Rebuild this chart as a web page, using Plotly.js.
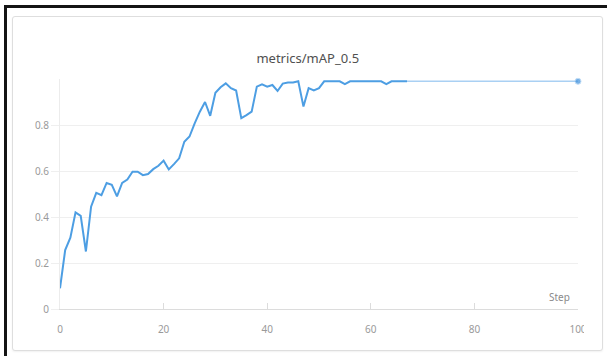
<!DOCTYPE html>
<html>
<head>
<meta charset="utf-8">
<script src="https://cdn.plot.ly/plotly-3.0.1.min.js"></script>
<style>
  html, body { margin: 0; padding: 0; background: #ffffff; }
  #page { position: relative; width: 607px; height: 356px; overflow: hidden; background: #ffffff; }
  #frame { position: absolute; left: 4px; top: 5px; width: 620px; height: 400px;
           border-top: 3px solid #141414; border-left: 3px solid #141414; }
  #card { position: absolute; left: 12px; top: 16px; width: 589px; height: 333px;
          border: 1px solid #dedede; border-radius: 3px; background: #ffffff;
          box-shadow: 0 1px 2px rgba(0,0,0,0.06); }
  #clip { position: absolute; left: 0; top: 0; width: 584px; height: 356px; overflow: hidden; }
  #chart { width: 607px; height: 356px; }
</style>
</head>
<body>
<div id="page">
  <div id="frame"></div>
  <div id="card"></div>
  <div id="clip"><div id="chart"></div></div>
</div>
<script>
// Training steps and mAP@0.5 values
const steps = [
  0, 1, 2, 3, 4, 5, 6, 7, 8, 9,
  10, 11, 12, 13, 14, 15, 16, 17, 18, 19,
  20, 21, 22, 23, 24, 25, 26, 27, 28, 29,
  30, 31, 32, 33, 34, 35, 36, 37, 38, 39,
  40, 41, 42, 43, 44, 45, 46, 47, 48, 49,
  50, 51, 52, 53, 54, 55, 56, 57, 58, 59,
  60, 61, 62, 63, 64, 65, 66, 67
];
const mapValues = [
  0.09, 0.256, 0.31, 0.42, 0.405, 0.25, 0.445, 0.505, 0.495, 0.548,
  0.54, 0.49, 0.548, 0.563, 0.597, 0.597, 0.582, 0.587, 0.608, 0.623,
  0.645, 0.607, 0.63, 0.655, 0.727, 0.75, 0.807, 0.858, 0.90, 0.84,
  0.94, 0.964, 0.981, 0.96, 0.95, 0.83, 0.843, 0.858, 0.967, 0.977,
  0.967, 0.974, 0.948, 0.98, 0.985, 0.985, 0.99, 0.88, 0.96, 0.95,
  0.96, 0.99, 0.99, 0.99, 0.99, 0.978, 0.99, 0.99, 0.99, 0.99,
  0.99, 0.99, 0.99, 0.978, 0.99, 0.99, 0.99, 0.99
];
// Last logged point
const finalStep = 100;
const finalValue = 0.99;

const xTicks = [0, 20, 40, 60, 80, 100];
const yTicks = [0, 0.2, 0.4, 0.6, 0.8];
const chartTitle = "metrics/mAP_0.5";
const xLabel = "Step";

const lastIdx = steps.length - 1;
const font = "Noto Sans, Open Sans, sans-serif";

const traces = [
  {
    x: [steps[lastIdx], finalStep],
    y: [mapValues[lastIdx], finalValue],
    mode: "lines+markers",
    line: { color: "#a9d0f3", width: 1.5 },
    marker: { color: "#3d8fdc", size: [0, 6] },
    cliponaxis: false,
    hoverinfo: "skip"
  },
  {
    x: steps,
    y: mapValues,
    mode: "lines",
    line: { color: "#4d9ee3", width: 2 },
    hoverinfo: "x+y"
  }
];

const layout = {
  width: 607,
  height: 356,
  margin: { l: 60, r: 29, t: 79, b: 47 },
  paper_bgcolor: "rgba(0,0,0,0)",
  plot_bgcolor: "rgba(0,0,0,0)",
  showlegend: false,
  font: { family: font, color: "#9a9a9a", size: 10 },
  title: {
    text: chartTitle,
    font: { family: font, size: 13, color: "#505050" },
    xref: "container", x: 0.507, xanchor: "center",
    yref: "container", y: 0.837, yanchor: "middle"
  },
  xaxis: {
    range: [0, 100],
    tickvals: xTicks,
    ticktext: xTicks.map(String),
    showgrid: false,
    zeroline: false,
    showline: true,
    linecolor: "#dcdcdc",
    linewidth: 1,
    ticks: "inside",
    ticklen: 6,
    tickcolor: "#dcdcdc",
    ticklabelstandoff: 11,
    tickfont: { family: font, size: 10, color: "#9a9a9a" },
    fixedrange: true
  },
  yaxis: {
    range: [0, 1],
    tickvals: yTicks,
    ticktext: yTicks.map(String),
    showgrid: true,
    gridcolor: "#efefef",
    zeroline: false,
    showline: true,
    linecolor: "#ececec",
    ticks: "outside",
    ticklen: 8,
    tickcolor: "#efefef",
    tickfont: { family: font, size: 10, color: "#9a9a9a" },
    fixedrange: true
  },
  annotations: [
    {
      text: xLabel,
      xref: "paper", yref: "paper",
      x: 0.988, y: 0,
      xanchor: "right", yanchor: "bottom",
      yshift: 3,
      showarrow: false,
      font: { family: font, size: 10, color: "#8a8a8a" }
    }
  ]
};

Plotly.newPlot("chart", traces, layout, { displayModeBar: false, staticPlot: true });
</script>
</body>
</html>
